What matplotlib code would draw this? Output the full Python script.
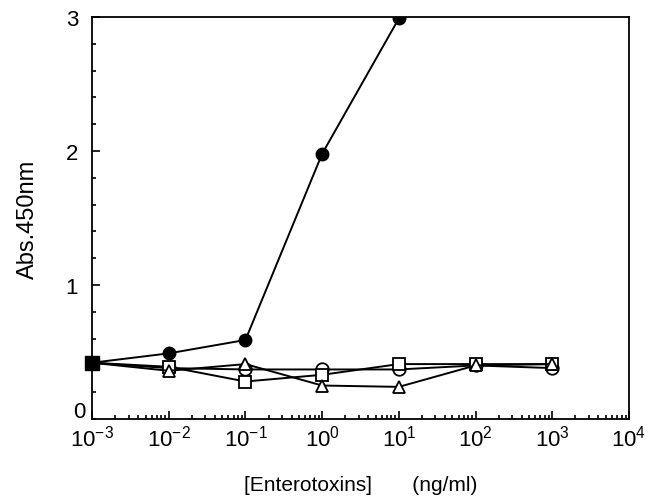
import numpy as np
import matplotlib.pyplot as plt
from matplotlib.ticker import LogLocator, NullFormatter, MultipleLocator

plt.rcParams['font.family'] = ['Liberation Sans', 'DejaVu Sans']
plt.rcParams['mathtext.fontset'] = 'custom'
plt.rcParams['mathtext.rm'] = 'Liberation Sans'
plt.rcParams['mathtext.it'] = 'Liberation Sans'

conc = [1e-3, 1e-2, 1e-1, 1e0, 1e1, 1e2, 1e3]

# filled circles
sea = [0.42, 0.49, 0.59, 1.98, 2.99]
# open circles
open_circ = [0.42, 0.38, 0.37, 0.37, 0.37, 0.40, 0.38]
# open squares
open_sq = [0.42, 0.39, 0.28, 0.33, 0.41, 0.41, 0.41]
# open triangles
open_tri = [0.42, 0.36, 0.41, 0.25, 0.24, 0.40, 0.41]

fig = plt.figure(figsize=(6.54, 5.02), dpi=100)
ax = fig.add_axes([0.1407, 0.1633, 0.8211, 0.8007])

kw = dict(color='black', lw=1.4, ms=9, mew=1.3, mfc='white', zorder=3)
ax.plot(conc, open_circ, marker='o', **kw)
ax.plot(conc, open_sq, marker='s', **kw)
ax.plot(conc, open_tri, marker='^', **kw)
ax.plot(conc[:len(sea)], sea, marker='o', color='black', lw=1.4, ms=9, zorder=4)
ax.plot(conc[0], open_sq[0], marker='s', color='black', ms=10, zorder=5, clip_on=False)

ax.set_xscale('log')
ax.set_xlim(1e-3, 1e4)
ax.set_ylim(0, 3)

ax.set_xticks([1e-3, 1e-2, 1e-1, 1e0, 1e1, 1e2, 1e3, 1e4])
ax.xaxis.set_minor_locator(LogLocator(base=10, subs=np.arange(2, 10), numticks=20))
ax.xaxis.set_minor_formatter(NullFormatter())
ax.set_xticklabels(['$10^{-3}$', '$10^{-2}$', '$10^{-1}$', '$10^{0}$', '$10^{1}$',
                    '$10^{2}$', '$10^{3}$', '$10^{4}$'])
ax.yaxis.set_minor_locator(MultipleLocator(0.2))
ax.set_yticks([1, 2, 3])
ax.set_yticklabels(['1', '2', '3'])
ax.text(-0.013, 0.018, '0', transform=ax.transAxes, ha='right', va='center', fontsize=16)

ax.tick_params(which='both', direction='in', top=False, right=False, width=1.2)
ax.tick_params(axis='x', which='major', length=6, labelsize=16, pad=4)
ax.tick_params(axis='y', which='major', length=6, labelsize=16, pad=10)
ax.tick_params(which='minor', length=3)
for s in ax.spines.values():
    s.set_linewidth(1.3)

ax.set_ylabel('Abs.450nm', fontsize=17)
ax.yaxis.set_label_coords(-0.098, 0.5)
ax.set_xlabel('[Enterotoxins]       (ng/ml)', fontsize=15, labelpad=18)

fig.savefig('out.png', dpi=100)
